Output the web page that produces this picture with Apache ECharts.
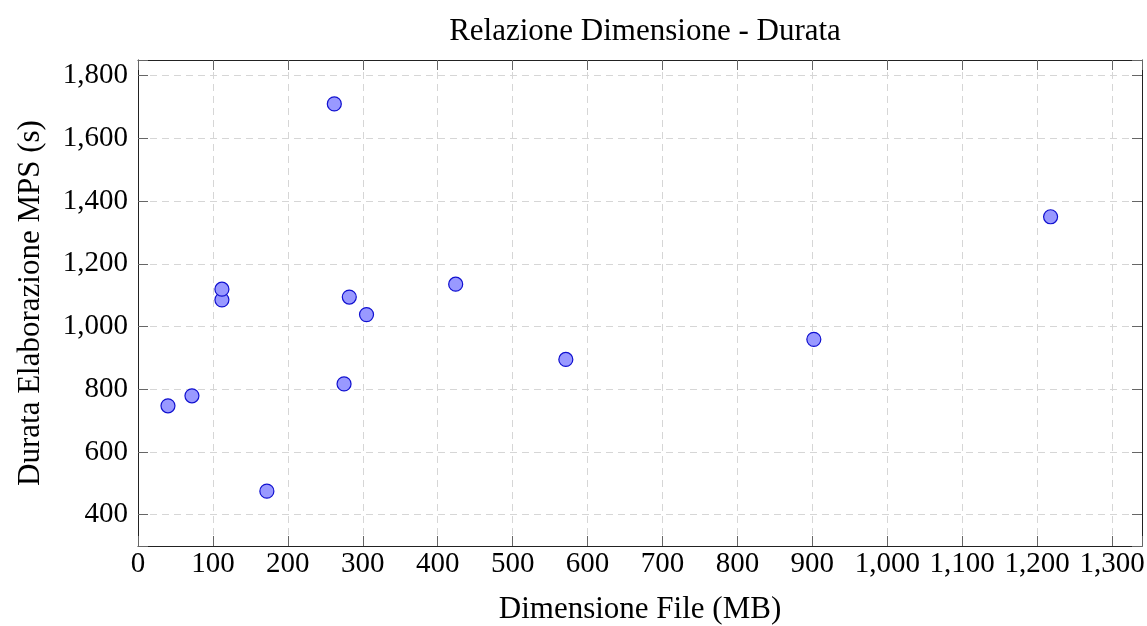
<!DOCTYPE html>
<html>
<head>
<meta charset="utf-8">
<script src="https://cdn.jsdelivr.net/npm/echarts@6/dist/echarts.min.js"></script>
<style>
  html, body { margin: 0; padding: 0; background: #fff; }
  #main { width: 1147px; height: 626px; }
</style>
</head>
<body>
<div id="main"></div>
<script>
// dimensione file (MB) e durata elaborazione (s)
var fileSizes = [40, 72, 112, 112, 172, 262, 275, 282, 305, 424, 571, 902, 1218];
var durations = [747, 779, 1085, 1119, 475, 1710, 817, 1094, 1038, 1135, 895, 959, 1350];

var points = fileSizes.map(function (s, i) { return [s, durations[i]]; });

var font = 'Liberation Serif';
var tickSize = 29;
var nameSize = 31;
var frameColor = '#222';

function fmt(v) {
    return String(v).replace(/\B(?=(\d{3})+(?!\d))/g, ',');
}

var chart = echarts.init(document.getElementById('main'));

var gridLine = { show: true, lineStyle: { color: '#d6d6d6', type: [7, 5], width: 1 } };

var option = {
    animation: false,
    title: {
        text: 'Relazione Dimensione - Durata',
        left: 640,
        top: 11,
        textAlign: 'center',
        textStyle: { fontFamily: font, fontSize: nameSize, fontWeight: 'normal', color: '#000' }
    },
    grid: { left: 138, top: 60, right: 5, bottom: 80, outerBoundsMode: 'none' },
    xAxis: [{
        type: 'value',
        min: 0,
        max: 1340,
        interval: 100,
        name: 'Dimensione File (MB)',
        nameLocation: 'middle',
        nameGap: 48,
        nameTextStyle: { fontFamily: font, fontSize: nameSize, color: '#000' },
        axisLine: { show: true, onZero: false, lineStyle: { color: frameColor } },
        axisTick: { show: true, inside: true, length: 10, lineStyle: { color: '#666' } },
        axisLabel: {
            fontFamily: font, fontSize: tickSize, color: '#000', margin: 4,
            formatter: function (v) { return v % 100 === 0 ? fmt(v) : ''; }
        },
        splitLine: gridLine
    }, {
        type: 'value',
        position: 'top',
        min: 0,
        max: 1340,
        interval: 100,
        axisLine: { show: true, onZero: false, lineStyle: { color: frameColor } },
        axisTick: { show: true, inside: true, length: 10, lineStyle: { color: '#666' } },
        axisLabel: { show: false },
        splitLine: { show: false }
    }],
    yAxis: [{
        type: 'value',
        min: 300,
        max: 1850,
        splitNumber: 8,
        name: 'Durata Elaborazione MPS (s)',
        nameLocation: 'middle',
        nameGap: 92,
        nameTextStyle: { fontFamily: font, fontSize: nameSize, color: '#000' },
        axisLine: { show: true, onZero: false, lineStyle: { color: frameColor } },
        axisTick: { show: true, inside: true, length: 10, lineStyle: { color: '#666' } },
        axisLabel: {
            fontFamily: font, fontSize: tickSize, color: '#000', margin: 10,
            formatter: function (v) { return v % 200 === 0 ? fmt(v) : ''; }
        },
        splitLine: gridLine
    }, {
        type: 'value',
        position: 'right',
        min: 300,
        max: 1850,
        splitNumber: 8,
        axisLine: { show: true, onZero: false, lineStyle: { color: frameColor } },
        axisTick: { show: true, inside: true, length: 10, lineStyle: { color: '#666' } },
        axisLabel: { show: false },
        splitLine: { show: false }
    }],
    series: [{
        type: 'scatter',
        xAxisIndex: 0,
        yAxisIndex: 0,
        symbol: 'circle',
        symbolSize: 14,
        itemStyle: { color: '#9999ff', borderColor: '#1010d0', borderWidth: 1.2, opacity: 1 },
        data: points
    }]
};

chart.setOption(option);
</script>
</body>
</html>
